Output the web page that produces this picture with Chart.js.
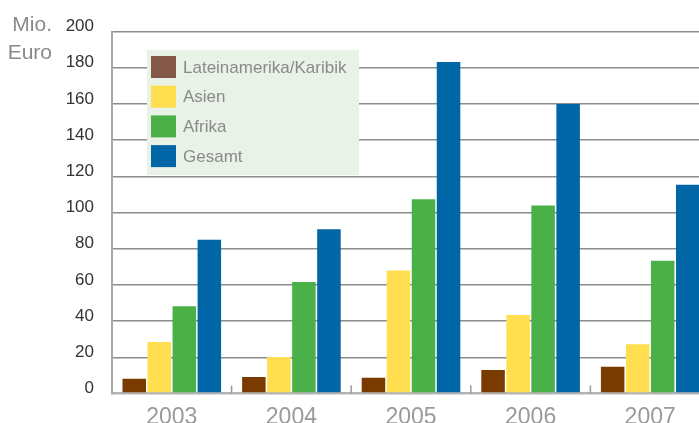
<!DOCTYPE html>
<html>
<head>
<meta charset="utf-8">
<script src="https://cdn.jsdelivr.net/npm/chart.js@4/dist/chart.umd.min.js"></script>
<style>
    html, body { margin: 0; padding: 0; background: #fff; overflow: hidden; }
    #wrap { width: 710px; height: 423px; position: relative; }
</style>
</head>
<body>
<div id="wrap"><canvas id="chart"></canvas></div>
<script>
// Data (Mio. Euro)
const years = ['2003', '2004', '2005', '2006', '2007'];
const lateinamerika = [8.2, 9.1, 8.7, 13.0, 14.8];
const asien = [28.5, 20.2, 67.9, 43.4, 27.2];
const afrika = [48.2, 61.6, 107.3, 103.8, 73.4];
const gesamt = [84.9, 90.7, 183.2, 160.0, 115.3];

const seriesNames = ['Lateinamerika/Karibik', 'Asien', 'Afrika', 'Gesamt'];
const barColors = ['#7a3b00', '#ffdf4f', '#4bb047', '#0066a6'];
const legendColors = ['#85594a', '#ffdf4f', '#4bb047', '#0066a6'];

const FONT = "'Liberation Sans', Arial, sans-serif";

// legend box + unit label, drawn over the grid but under the bars
const decorations = {
    id: 'decorations',
    beforeDatasetsDraw(chart) {
        const ctx = chart.ctx;
        ctx.save();
        // legend background
        ctx.fillStyle = '#e8f2e7';
        ctx.fillRect(147, 50, 212, 125);
        ctx.font = '17px ' + FONT;
        ctx.textBaseline = 'middle';
        ctx.textAlign = 'left';
        chart.data.datasets.forEach((ds, i) => {
            const top = 56 + i * 29.7;
            ctx.fillStyle = legendColors[i];
            ctx.fillRect(151, top, 25, 22);
            ctx.fillStyle = '#8a8a8a';
            ctx.fillText(ds.label, 183, top + 12);
        });
        ctx.restore();
    },
    afterDraw(chart) {
        const ctx = chart.ctx;
        const x = chart.scales.x;
        const bottom = chart.chartArea.bottom;
        ctx.save();
        // small tick marks at category boundaries, pointing up
        ctx.strokeStyle = '#9a9a9a';
        ctx.lineWidth = 1.5;
        for (let i = 1; i < years.length; i++) {
            const px = (x.getPixelForValue(i - 1) + x.getPixelForValue(i)) / 2;
            ctx.beginPath();
            ctx.moveTo(px, bottom - 8);
            ctx.lineTo(px, bottom);
            ctx.stroke();
        }
        // unit label
        ctx.fillStyle = '#8a8a8a';
        ctx.font = '21px ' + FONT;
        ctx.textAlign = 'right';
        ctx.textBaseline = 'middle';
        ctx.fillText('Mio.', 52, 25);
        ctx.fillText('Euro', 52, 53);
        ctx.restore();
    }
};

const ctx = document.getElementById('chart').getContext('2d');
const chart = new Chart(ctx, {
    type: 'bar',
    data: {
        labels: years,
        datasets: [lateinamerika, asien, afrika, gesamt].map((values, i) => ({
            label: seriesNames[i],
            data: values,
            backgroundColor: barColors[i],
            borderWidth: 0,
            categoryPercentage: 0.837,
            barPercentage: 0.94
        }))
    },
    options: {
        responsive: true,
        maintainAspectRatio: false,
        animation: false,
        layout: {
            padding: { top: 31.5, left: 0, right: 0, bottom: 0 }
        },
        scales: {
            x: {
                grid: { display: false, drawTicks: false },
                border: { display: false },
                ticks: {
                    color: '#9a9a9a',
                    font: { family: FONT, size: 23 },
                    padding: 10,
                    maxRotation: 0
                },
                afterFit(scale) { scale.height = 29.5; }
            },
            y: {
                min: 0,
                max: 200,
                ticks: {
                    stepSize: 20,
                    color: '#333333',
                    font: { family: FONT, size: 17 },
                    padding: 18,
                    labelOffset: -5
                },
                grid: {
                    drawTicks: false,
                    lineWidth: ctx => ctx.tick && ctx.tick.value === 0 ? 2.5 : 1.5,
                    color: ctx => ctx.tick && ctx.tick.value === 0 ? '#b4b4b4' : '#8c8c8c'
                },
                border: { color: '#a8a8a8', width: 2 },
                afterFit(scale) { scale.width = 112; }
            }
        },
        plugins: {
            legend: { display: false },
            tooltip: { enabled: false }
        }
    },
    plugins: [decorations]
});
</script>
</body>
</html>
